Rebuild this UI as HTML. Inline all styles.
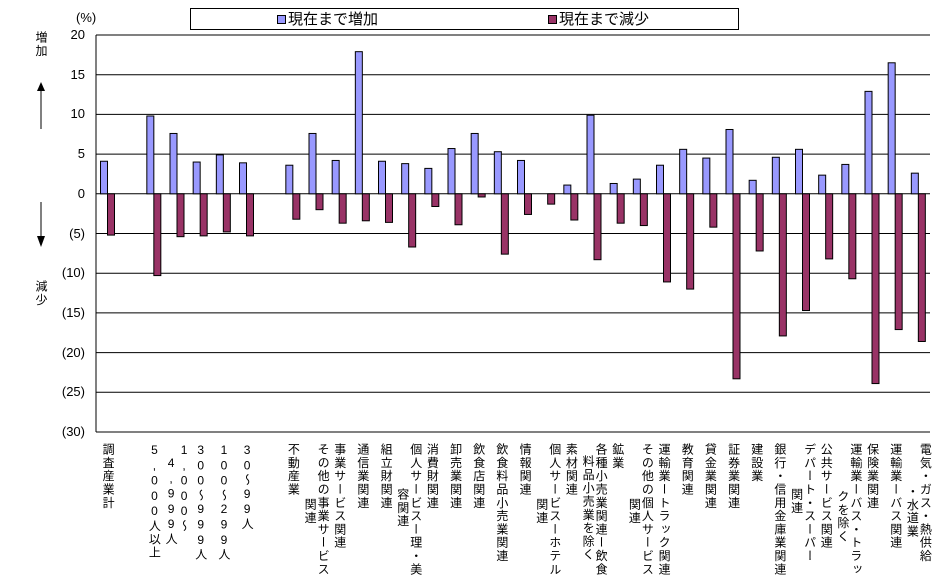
<!DOCTYPE html>
<html><head><meta charset="utf-8"><style>
body{margin:0;background:#fff;}
#c{position:relative;width:944px;height:587px;overflow:hidden;font-family:"Liberation Sans","Noto Sans CJK JP",sans-serif;}
.vl{position:absolute;writing-mode:vertical-rl;text-orientation:upright;font-size:12px;letter-spacing:1.3px;line-height:13px;color:#000;white-space:nowrap;}
.yt{position:absolute;font-size:13px;right:859px;text-align:right;color:#000;}
</style></head><body>
<div id="c">
<div style="position:absolute;left:190px;top:8px;width:547px;height:20px;border:1px solid #000;"></div>
<div style="position:absolute;left:277px;top:8px;font-size:15px;"><span style="display:inline-block;width:7px;height:7px;background:#9999ff;border:1px solid #000;margin-right:2px;"></span>現在まで増加</div>
<div style="position:absolute;left:548px;top:8px;font-size:15px;"><span style="display:inline-block;width:7px;height:7px;background:#993366;border:1px solid #000;margin-right:2px;"></span>現在まで減少</div>
<div style="position:absolute;left:76px;top:10px;font-size:13px;">(%)</div>
<div class="vl" style="left:34px;top:31px;">増加</div>
<div class="vl" style="left:34px;top:280px;">減少</div>
<svg width="944" height="587" style="position:absolute;left:0;top:0" id="svg">
<line x1="41" y1="90" x2="41" y2="129" stroke="#000"/>
<polygon points="37,91 45,91 41,82" fill="#000"/>
<line x1="41" y1="202" x2="41" y2="237" stroke="#000"/>
<polygon points="37,236 45,236 41,247" fill="#000"/>
</svg>
</div>
<script>
const categories=["調査産業計","","5,000人以上","1,000～|4,999人","300～999人","100～299人","30～99人","","不動産業","その他の事業サービス|関連","事業サービス関連","通信業関連","組立財関連","個人サービスー理・美|容関連","消費財関連","卸売業関連","飲食店関連","飲食料品小売業関連","情報関連","個人サービスーホテル|関連","素材関連","各種小売業関連ー飲食|料品小売業を除く","鉱業","その他の個人サービス|関連","運輸業ートラック関連","教育関連","貸金業関連","証券業関連","建設業","銀行・信用金庫業関連","デパート・スーパー|関連","公共サービス関連","運輸業ーバス・トラッ|クを除く","保険業関連","運輸業ーバス関連","電気・ガス・熱供給|・水道業"];
const secondDy=[0,0,0,13,0,0,0,0,0,55,0,0,0,45,0,0,0,0,0,55,0,12,0,55,0,0,0,0,0,0,45,0,47,0,0,42];
const increase=[4.1,null,9.8,7.6,4.0,4.9,3.9,null,3.6,7.6,4.2,17.9,4.1,3.8,3.2,5.7,7.6,5.3,4.2,0,1.1,9.9,1.3,1.85,3.6,5.6,4.5,8.1,1.7,4.6,5.6,2.35,3.7,12.9,16.5,2.6];
const decrease=[-5.2,null,-10.3,-5.4,-5.3,-4.8,-5.3,null,-3.2,-2.0,-3.7,-3.4,-3.6,-6.7,-1.6,-3.9,-0.4,-7.6,-2.6,-1.3,-3.3,-8.3,-3.7,-4.0,-11.1,-12.0,-4.2,-23.3,-7.2,-17.9,-14.7,-8.2,-10.7,-23.9,-17.1,-18.6];
const yTicks=[20,15,10,5,0,-5,-10,-15,-20,-25,-30];

const X0=96,X1=930,Y0=35,Y1=432,YMAX=20,YMIN=-30;
const slotW=(X1-X0)/categories.length;
function y(v){return Y0+(YMAX-v)/(YMAX-YMIN)*(Y1-Y0);}
function xs(i){return X0+i*slotW;}
const svg=document.getElementById('svg');
const c=document.getElementById('c');
const NS="http://www.w3.org/2000/svg";
function mk(t,a){const e=document.createElementNS(NS,t);for(const k in a)e.setAttribute(k,a[k]);svg.appendChild(e);return e;}
yTicks.forEach(v=>{
  const g=mk('line',{x1:X0,x2:X1,y1:y(v),y2:y(v),stroke:'#000','stroke-width':1});
  
  
  const d=document.createElement('div');
  d.className='yt';
  d.style.top=(y(v)-8)+'px';
  d.textContent=v<0?'('+(-v)+')':String(v);
  
  
  c.appendChild(d);
});
const ax=mk('line',{x1:X0,x2:X0,y1:Y0,y2:Y1,stroke:'#000'});


categories.forEach((cat,i)=>{
  const s=xs(i);
  if(increase[i]!=null&&increase[i]>0){
    const r=mk('rect',{x:s+4.5,y:y(increase[i]),width:7,height:y(0)-y(increase[i]),fill:'#9999ff',stroke:'#000'});
    
    
  }
  if(decrease[i]!=null){
    const r=mk('rect',{x:s+11.5,y:y(0),width:7,height:y(decrease[i])-y(0),fill:'#993366',stroke:'#000'});
    
    
  }
  if(cat){
    const parts=cat.split('|');
    const cx=s+slotW/2;
    const main=document.createElement('div');
    main.className='vl';
    main.textContent=parts[0];
    main.style.top='443px';
    main.style.left=(parts.length>1?cx:cx-6.5)+'px';
    
    
    c.appendChild(main);
    if(parts.length>1){
      const sec=document.createElement('div');
      sec.className='vl';
      sec.textContent=parts[1];
      sec.style.top=(443+secondDy[i])+'px';
      sec.style.left=(cx-13)+'px';
      
      
      c.appendChild(sec);
    }
  }
});
</script>
</body></html>
